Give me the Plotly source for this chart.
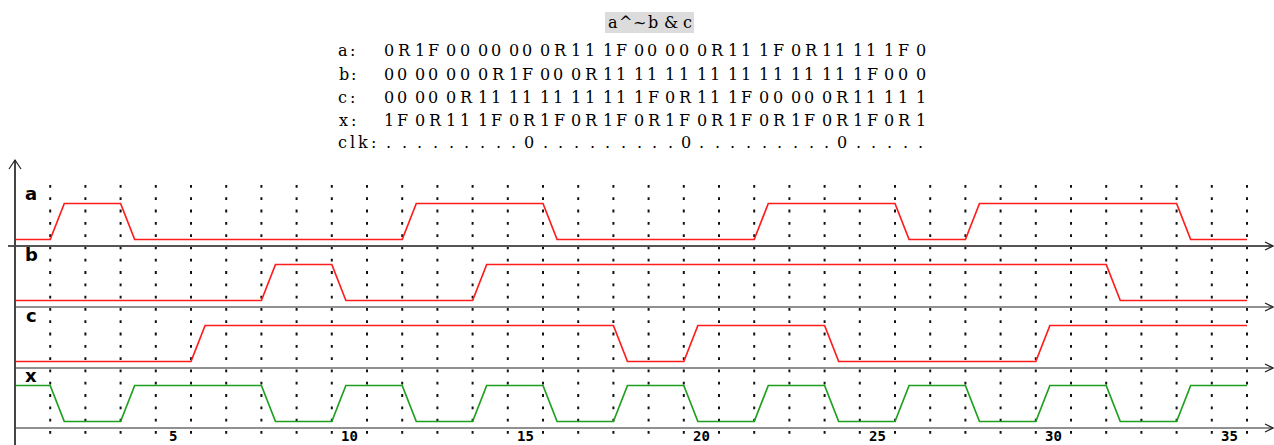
import plotly.graph_objects as go

# ---------------- data ----------------
lane_names = ["a", "b", "c", "x"]
wave_a = "0R1F0000000R111F00000R111F0R11111F0"
wave_b = "0000000R1F000R11111111111111111F000"
wave_c = "00000R11111111111F0R111F00000R11111"
wave_x = "1F0R111F0R1F0R1F0R1F0R1F0R1F0R1F0R1"
clk_row = "........." + "0" + "........." + "0" + "........." + "0" + "....."
title_text = "a^~b&c"
tick_values = [5, 10, 15, 20, 25, 30, 35]
lane_colors = ["#ff1c1c", "#ff1c1c", "#ff1c1c", "#1f9f1f"]

# ---------------- layout constants ----------------
W, H = 1274, 445
STEP = 35.2          # px per time step
X0 = 15              # pixel of t = 0 (vertical axis)
RAMP = 0.4           # transition duration (steps)
BASE = [246, 307, 368, 428]   # lane baselines (px)
LOW_OFF, UNIT, LANE_H = 6.5, 36.0, 61.0
t_min, t_max = -X0 / STEP, (W - X0) / STEP
n_steps = len(wave_a)

def px(xp):
    return xp / W

def py(yp):
    return 1 - yp / H

def wave_points(s):
    ts, vs = [], []
    level = 1 if s[0] in "1F" else 0
    ts.append(0); vs.append(level)
    for i, ch in enumerate(s):
        if ch == "R":
            ts += [i, i + RAMP]; vs += [0, 1]; level = 1
        elif ch == "F":
            ts += [i, i + RAMP]; vs += [1, 0]; level = 0
        else:
            level = int(ch)
        ts.append(i + 1); vs.append(level)
    return ts, vs

fig = go.Figure()
waves = [wave_a, wave_b, wave_c, wave_x]
for k, (name, s) in enumerate(zip(lane_names, waves)):
    ts, vs = wave_points(s)
    fig.add_trace(go.Scatter(
        x=ts, y=vs, mode="lines", name=name,
        line=dict(color=lane_colors[k], width=1.7),
        xaxis="x", yaxis="y" if k == 0 else f"y{k+1}",
        hoverinfo="skip", showlegend=False))

layout = dict(
    width=W, height=H, autosize=False,
    margin=dict(l=0, r=0, t=0, b=0),
    paper_bgcolor="white", plot_bgcolor="rgba(0,0,0,0)",
    showlegend=False,
    xaxis=dict(range=[t_min, t_max], visible=False, fixedrange=True, anchor="y"),
)
for k, b in enumerate(BASE):
    key = "yaxis" if k == 0 else f"yaxis{k+1}"
    layout[key] = dict(
        domain=[py(b), py(b - LANE_H)],
        range=[-LOW_OFF / UNIT, (LANE_H - LOW_OFF) / UNIT],
        visible=False, fixedrange=True, anchor="x")
fig.update_layout(**layout)

shapes = []
# dotted vertical step lines
for t in range(1, n_steps + 1):
    shapes.append(dict(type="line", xref="x", yref="paper", x0=t, x1=t,
                       y0=py(185), y1=py(434), layer="below",
                       line=dict(color="#111111", width=2, dash="2.8px,9.5px")))
# lane baselines with arrowheads
for k, b in enumerate(BASE):
    xs = 8 if k == 0 else X0
    col = "#555555" if k == 0 else "#222222"
    wdt = 2 if k == 0 else 1.2
    shapes.append(dict(type="line", xref="paper", yref="paper",
                       x0=px(xs), x1=px(1272), y0=py(b), y1=py(b),
                       line=dict(color=col, width=wdt)))
    shapes.append(dict(type="path", xref="paper", yref="paper",
                       path=f"M{px(1265)},{py(b-4)} L{px(1273)},{py(b)} L{px(1265)},{py(b+4)}",
                       line=dict(color="#222222", width=1.2)))
# vertical axis with arrowhead
shapes.append(dict(type="line", xref="paper", yref="paper",
                   x0=px(X0), x1=px(X0), y0=py(160), y1=py(H),
                   line=dict(color="#444444", width=2)))
shapes.append(dict(type="path", xref="paper", yref="paper",
                   path=f"M{px(9)},{py(169)} L{px(X0)},{py(160)} L{px(21)},{py(169)}",
                   line=dict(color="#222222", width=1.2)))
# title background box
shapes.append(dict(type="rect", xref="paper", yref="paper", layer="below",
                   x0=px(605), x1=px(694), y0=py(33), y1=py(12),
                   fillcolor="#dcdcdc", line=dict(width=0)))
fig.update_layout(shapes=shapes)

ann = []
serif = dict(family="DejaVu Serif, Liberation Serif, serif", size=16, color="black")
TW = {"a": .444, "b": .5, "c": .444, "x": .5, "l": .278, "k": .5, ":": .278,
      "^": .469, "~": .541, "&": .778, "0": .5, "1": .5, "R": .667, "F": .556, ".": .5}
STRETCH = 16 * 1.66

def put(ch, xc, yc, font):
    txt = "&amp;" if ch == "&" else ch
    ann.append(dict(text=txt, x=px(xc), y=py(yc), xref="paper", yref="paper",
                    xanchor="center", yanchor="middle", showarrow=False, font=font))

def put_string(s, x_left, yc, font, scale=STRETCH):
    xpos = x_left
    for ch in s:
        w = TW.get(ch, .5) * scale
        put(ch, xpos + w / 2, yc, font)
        xpos += w

# title
put_string(title_text, 607, 23, serif, scale=16 * 1.7)
# signal rows
row_y = [50.5, 74, 97.5, 120.5]
for name, s, yc in zip(lane_names, waves, row_y):
    put_string(name + ":", 337, yc, serif)
    for i, ch in enumerate(s):
        left = 382 + 31.3 * (i // 2)
        if i % 2 == 1:
            left += TW[s[i - 1]] * STRETCH
        put(ch, left + TW[ch] * STRETCH / 2, yc, serif)
# clk row
put_string("clk:", 337, 142.5, serif)
for i, ch in enumerate(clk_row):
    put(ch, 382 + 15.65 * i + 6.6, 142.5, serif)

# lane labels
for name, b in zip(lane_names, BASE):
    ann.append(dict(text=name, x=px(31), y=py(b - 53), xref="paper", yref="paper",
                    xanchor="center", yanchor="middle", showarrow=False,
                    font=dict(family="DejaVu Sans", size=18, color="black", weight="bold")))
# time tick labels (centered in their step)
for v in tick_values:
    ann.append(dict(text=str(v), x=v - 0.5, y=py(445), xref="x", yref="paper",
                    xanchor="center", yanchor="bottom", showarrow=False, borderpad=0,
                    font=dict(family="DejaVu Sans Mono", size=14, color="black", weight="bold")))
fig.update_layout(annotations=ann)

fig.write_html("out.html", config={"displayModeBar": False},
               post_script="document.body.style.margin='0';")
